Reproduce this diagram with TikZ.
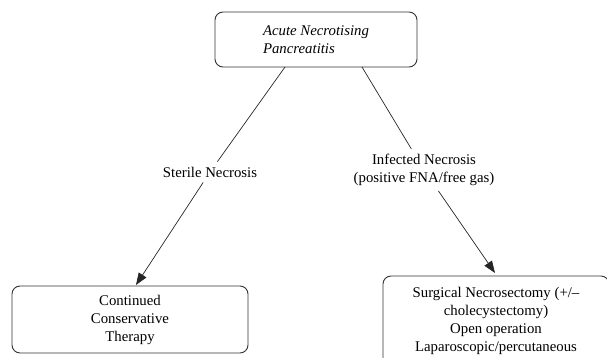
\documentclass[tikz,border=0pt]{standalone}
\usepackage{fontspec}
\setmainfont{Liberation Serif}
\usetikzlibrary{arrows.meta}
\begin{document}
\begin{tikzpicture}[x=1pt,y=-1pt,
  box/.style={draw=black!80,line width=0.9pt,rounded corners=8pt,inner sep=0pt,align=center,
    font=\fontsize{14.8pt}{18pt}\selectfont},
  lbl/.style={inner sep=5pt,align=center,font=\fontsize{14.8pt}{18pt}\selectfont},
  conn/.style={draw=black!85,line width=0.7pt},
  arr/.style={conn,-{Triangle[length=12pt,width=9pt]}}]
\path[use as bounding box] (0,0) rectangle (607,358);
\clip (0,0) rectangle (607,358);
\node[box,minimum width=202pt,minimum height=55pt,align=left,font=\fontsize{14.8pt}{18pt}\selectfont\itshape]
  (top) at (316,39.5) {Acute Necrotising\\Pancreatitis};
\node[box,minimum width=236pt,minimum height=67pt] (left) at (130,319.5) {Continued\\Conservative\\Therapy};
\node[box,minimum width=226pt,minimum height=90pt] (right) at (496,321) {Surgical Necrosectomy (+/--\\cholecystectomy)\\Open operation\\Laparoscopic/percutaneous};
\node[lbl] (sterile) at (210,172) {Sterile Necrosis};
\node[lbl] (infected) at (424,170) {Infected Necrosis\\(positive FNA/free gas)};
\coordinate (t1) at (285,67);
\coordinate (t2) at (362,67);
\coordinate (a1) at (136,285);
\coordinate (a2) at (495,273);
\draw[conn] (t1) -- (sterile);
\draw[arr] (sterile) -- (a1);
\draw[conn] (t2) -- (infected);
\draw[arr] (infected) -- (a2);
\end{tikzpicture}
\end{document}
